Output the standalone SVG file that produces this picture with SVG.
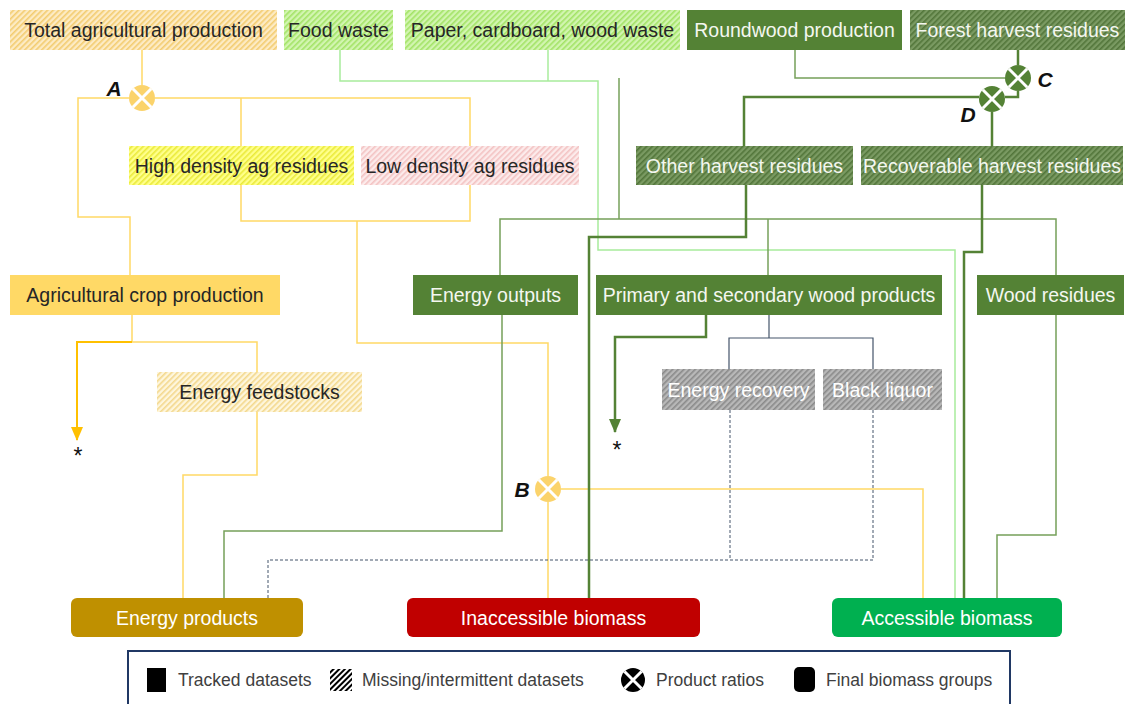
<svg xmlns="http://www.w3.org/2000/svg" width="1127" height="704" viewBox="0 0 1127 704">
<style>
.t{font-family:"Liberation Sans",Arial,sans-serif;font-size:19.5px;text-anchor:middle;dominant-baseline:central}
.dk{fill:#262626}
.lt{fill:#f4f7f0}
.lbl{font-family:"Liberation Sans",Arial,sans-serif;font-size:21px;font-weight:bold;font-style:italic;text-anchor:middle;dominant-baseline:central;fill:#111}
.star{font-family:"Liberation Sans",Arial,sans-serif;font-size:23px;text-anchor:middle;fill:#111}
.lg{font-family:"Liberation Sans",Arial,sans-serif;font-size:17.5px;fill:#404040;dominant-baseline:central}
.c{fill:none;stroke-linejoin:miter}
.yl{stroke:#ffd966;stroke-width:1.5}
.lgn{stroke:#a8ec9c;stroke-width:1.5}
.rw{stroke:#76a05a;stroke-width:1.5}
.hv{stroke:#548235;stroke-width:2.5}
.sl{stroke:#44546a;stroke-width:1.2}
.ds{stroke:#44546a;stroke-width:1;stroke-dasharray:3 2}
.solid{fill:#548235}
.x{stroke:#fff;stroke-width:3}
</style>
<defs>
<pattern id="hOrange" patternUnits="userSpaceOnUse" width="4" height="4" patternTransform="rotate(45)"><rect width="4" height="4" fill="#fdebc4"/><rect width="1.6" height="4" fill="#f3cc70"/></pattern>
<pattern id="hLGreen" patternUnits="userSpaceOnUse" width="4" height="4" patternTransform="rotate(45)"><rect width="4" height="4" fill="#d2f5b0"/><rect width="1.6" height="4" fill="#a3e366"/></pattern>
<pattern id="hYellow" patternUnits="userSpaceOnUse" width="4" height="4" patternTransform="rotate(45)"><rect width="4" height="4" fill="#ffff8a"/><rect width="1.6" height="4" fill="#eaea3a"/></pattern>
<pattern id="hPink" patternUnits="userSpaceOnUse" width="4" height="4" patternTransform="rotate(45)"><rect width="4" height="4" fill="#fcebeb"/><rect width="1.6" height="4" fill="#f3c2c2"/></pattern>
<pattern id="hGold" patternUnits="userSpaceOnUse" width="4" height="4" patternTransform="rotate(45)"><rect width="4" height="4" fill="#fef6dc"/><rect width="1.6" height="4" fill="#f3d88c"/></pattern>
<pattern id="hDGreen" patternUnits="userSpaceOnUse" width="4" height="4" patternTransform="rotate(45)"><rect width="4" height="4" fill="#7a9a62"/><rect width="1.6" height="4" fill="#52753a"/></pattern>
<pattern id="hGray" patternUnits="userSpaceOnUse" width="4" height="4" patternTransform="rotate(45)"><rect width="4" height="4" fill="#b8b8b8"/><rect width="1.6" height="4" fill="#8a8a8a"/></pattern>
<pattern id="hBlack" patternUnits="userSpaceOnUse" width="4" height="4" patternTransform="rotate(45)"><rect width="4" height="4" fill="#fff"/><rect width="2" height="4" fill="#000"/></pattern>
<marker id="arrG" markerWidth="14" markerHeight="12" refX="13" refY="6" orient="auto" markerUnits="userSpaceOnUse" viewBox="0 0 14 12"><path d="M0,0 L14,6 L0,12 Z" fill="#548235"/></marker>
<marker id="arrY" markerWidth="14" markerHeight="12" refX="13" refY="6" orient="auto" markerUnits="userSpaceOnUse" viewBox="0 0 14 12"><path d="M0,0 L14,6 L0,12 Z" fill="#ffc000"/></marker>
</defs>
<rect width="1127" height="704" fill="#fff"/>

<g id="connectors">
<path class="c yl" d="M142,50 V85"/>
<path class="c yl" d="M129,98 H78 V217 H130 V275"/>
<path class="c yl" d="M155,98 H470 V146"/>
<path class="c yl" d="M241,98 V146"/>
<path class="c yl" d="M241,185 V221 H470 V185"/>
<path class="c yl" d="M357,221 V343 H548 V476"/>
<path class="c yl" d="M132,315 V342 H257 V372"/>
<path class="c yl" d="M257,412 V475 H183 V598"/>
<path class="c yl" d="M561,489 H923 V598"/>
<path class="c yl" d="M548,502 V598"/>
<path class="c" stroke="#ffc000" stroke-width="2" d="M132,342 H77 V440" marker-end="url(#arrY)"/>
<path class="c lgn" d="M340,50 V81 H598 V250 H955 V598"/>
<path class="c lgn" d="M548,50 V81"/>
<path class="c rw" d="M795,50 V78 H1005"/>
<path class="c rw" d="M619,78 V219"/>
<path class="c rw" d="M500,275 V219 H1056 V275"/>
<path class="c rw" d="M768,219 V275"/>
<path class="c rw" d="M502,315 V531 H224 V598"/>
<path class="c rw" d="M1056,315 V535 H997 V598"/>
<path class="c hv" d="M1018,50 V65"/>
<path class="c hv" d="M1018,91 V97 H1005"/>
<path class="c hv" d="M979,97 H744 V146"/>
<path class="c hv" d="M992,112 V146"/>
<path class="c hv" d="M746,185 V237 H589 V598"/>
<path class="c hv" d="M982,185 V252 H964 V598"/>
<path class="c hv" d="M706,315 V337 H615 V432" marker-end="url(#arrG)"/>
<path class="c sl" d="M769,315 V338"/>
<path class="c sl" d="M729,369 V338 H873 V369"/>
<path class="c ds" d="M730,410 V560"/>
<path class="c ds" d="M873,410 V560 H268 V598"/>
</g>

<g id="ratioA"><circle cx="142" cy="98" r="13" fill="#fbd36b"/><path class="x" d="M132.8,88.8 L151.2,107.2 M151.2,88.8 L132.8,107.2"/><text class="lbl" x="114" y="88">A</text></g>
<g id="ratioB"><circle cx="548" cy="489" r="13" fill="#fbd36b"/><path class="x" d="M538.8,479.8 L557.2,498.2 M557.2,479.8 L538.8,498.2"/><text class="lbl" x="522" y="489">B</text></g>
<g id="ratioC"><circle cx="1018" cy="78" r="13" fill="#548235"/><path class="x" d="M1008.8,68.8 L1027.2,87.2 M1027.2,68.8 L1008.8,87.2"/><text class="lbl" x="1045" y="79">C</text></g>
<g id="ratioD"><circle cx="992" cy="99" r="13" fill="#548235"/><path class="x" d="M982.8,89.8 L1001.2,108.2 M1001.2,89.8 L982.8,108.2"/><text class="lbl" x="968" y="114">D</text></g>

<g id="n_total"><rect x="10" y="10" width="267" height="40" fill="url(#hOrange)"/><text class="t dk" x="143.5" y="30">Total agricultural production</text></g>
<g id="n_food"><rect x="284" y="10" width="109" height="40" fill="url(#hLGreen)"/><text class="t dk" x="338.5" y="30">Food waste</text></g>
<g id="n_paper"><rect x="405" y="10" width="275" height="40" fill="url(#hLGreen)"/><text class="t dk" x="542.5" y="30">Paper, cardboard, wood waste</text></g>
<g id="n_roundwood"><rect x="687" y="10" width="215" height="40" class="solid"/><text class="t lt" x="794.5" y="30">Roundwood production</text></g>
<g id="n_forest"><rect x="910" y="10" width="215" height="40" fill="url(#hDGreen)"/><text class="t lt" x="1017.5" y="30">Forest harvest residues</text></g>
<g id="n_high"><rect x="129" y="146" width="225" height="39" fill="url(#hYellow)"/><text class="t dk" x="241.5" y="165.5">High density ag residues</text></g>
<g id="n_low"><rect x="361" y="146" width="218" height="39" fill="url(#hPink)"/><text class="t dk" x="470" y="165.5">Low density ag residues</text></g>
<g id="n_other"><rect x="636" y="146" width="217" height="39" fill="url(#hDGreen)"/><text class="t lt" x="744.5" y="165.5">Other harvest residues</text></g>
<g id="n_recov"><rect x="861" y="146" width="262" height="39" fill="url(#hDGreen)"/><text class="t lt" x="992" y="165.5">Recoverable harvest residues</text></g>
<g id="n_agcrop"><rect x="10" y="275" width="270" height="40" fill="#ffd966"/><text class="t dk" x="145" y="295">Agricultural crop production</text></g>
<g id="n_eout"><rect x="413" y="275" width="165" height="40" class="solid"/><text class="t lt" x="495.5" y="295">Energy outputs</text></g>
<g id="n_primary"><rect x="596" y="275" width="346" height="40" class="solid"/><text class="t lt" x="769" y="295">Primary and secondary wood products</text></g>
<g id="n_woodres"><rect x="977" y="275" width="147" height="40" class="solid"/><text class="t lt" x="1050.5" y="295">Wood residues</text></g>
<g id="n_efeed"><rect x="157" y="372" width="205" height="40" fill="url(#hGold)"/><text class="t dk" x="259.5" y="392">Energy feedstocks</text></g>
<g id="n_erec"><rect x="662" y="369" width="153" height="41" fill="url(#hGray)"/><text class="t" fill="#fff" x="738.5" y="389.5">Energy recovery</text></g>
<g id="n_black"><rect x="823" y="369" width="119" height="41" fill="url(#hGray)"/><text class="t" fill="#fff" x="882.5" y="389.5">Black liquor</text></g>
<g id="n_eprod"><rect x="71" y="598" width="232" height="39" rx="6" fill="#bf9000"/><text class="t" fill="#fff" x="187" y="617.5">Energy products</text></g>
<g id="n_inacc"><rect x="407" y="598" width="293" height="39" rx="6" fill="#c00000"/><text class="t" fill="#fff" x="553.5" y="617.5">Inaccessible biomass</text></g>
<g id="n_acc"><rect x="832" y="598" width="230" height="39" rx="6" fill="#00b050"/><text class="t" fill="#fff" x="947" y="617.5">Accessible biomass</text></g>

<text class="star" x="78" y="464">*</text>
<text class="star" x="617" y="458">*</text>

<g id="legend">
<rect x="128" y="651" width="882" height="62" fill="#fff" stroke="#203864" stroke-width="2"/>
<rect x="147" y="668" width="19" height="24" fill="#000"/>
<text class="lg" x="178" y="680">Tracked datasets</text>
<rect x="330" y="669" width="22" height="22" fill="url(#hBlack)"/>
<text class="lg" x="362" y="680">Missing/intermittent datasets</text>
<circle cx="633" cy="680" r="12" fill="#000"/>
<path class="x" d="M624.5,671.5 L641.5,688.5 M641.5,671.5 L624.5,688.5"/>
<text class="lg" x="656" y="680">Product ratios</text>
<rect x="794" y="667" width="21" height="25" rx="5" fill="#000"/>
<text class="lg" x="826" y="680">Final biomass groups</text>
</g>
</svg>
